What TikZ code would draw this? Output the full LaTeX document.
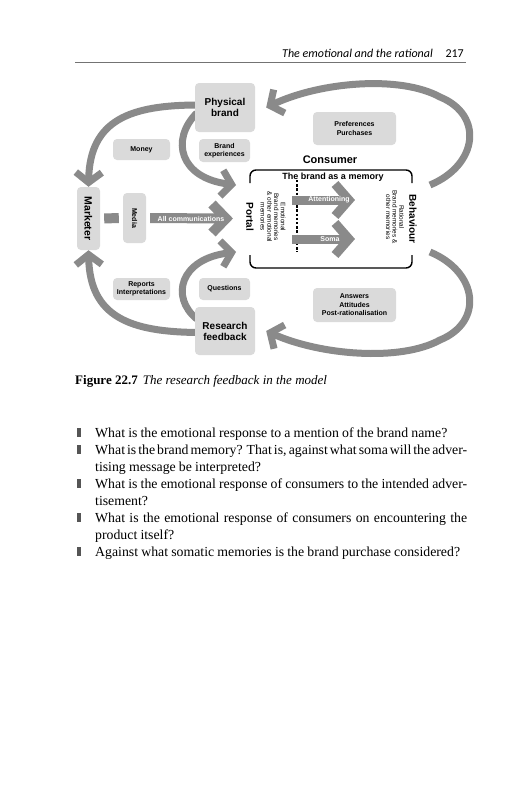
\documentclass[tikz,border=0pt]{standalone}
\usepackage{fontspec}
\setmainfont{Liberation Serif}
\setsansfont{Liberation Sans}
\newfontfamily\headfont{Carlito}
\usetikzlibrary{arrows.meta,calc,backgrounds}
\definecolor{boxgray}{RGB}{218,218,218}
\definecolor{arrgray}{RGB}{138,138,138}
\definecolor{bulgray}{RGB}{85,85,85}
\newcommand\parafont{\fontsize{13.8}{17}\selectfont\spaceskip=.23em plus .2em minus .1em\relax}
\tikzset{
	box/.style={fill=boxgray,rounded corners=4pt,inner sep=0pt,align=center,
		font=\sffamily\bfseries\fontsize{7}{8.5}\selectfont},
	bigbox/.style={box,font=\sffamily\bfseries\fontsize{10}{11}\selectfont},
	flow/.style={draw=arrgray,line width=7pt,-{Straight Barb[length=10pt,width=26pt]}},
	chev/.style={draw=arrgray,line width=9pt},
	bartext/.style={text=white,inner sep=0pt,font=\sffamily\bfseries\fontsize{7}{8}\selectfont},
	memo/.style={rotate=-90,align=center,inner sep=0pt,font=\sffamily\fontsize{6.4}{6.7}\selectfont},
	para/.style={anchor=base west,inner sep=0pt,text width=372pt,align=justify,font=\parafont},
}
\begin{document}
\begin{tikzpicture}[x=1pt,y=-1pt,line join=miter]
	\useasboundingbox (0,0) rectangle (522,800);
	% running head
	\node[anchor=base east,inner sep=0pt,font=\headfont\itshape\fontsize{12}{12}\selectfont] (runhead) at (433,57) {The emotional and the rational};
	\node[anchor=base east,inner sep=0pt,font=\headfont\fontsize{12}{12}\selectfont] (folio) at (464,57) {217};
	\draw[black!55,line width=0.8pt] (75,62) -- (466,62);

	% boxes round the consumer
	\node[bigbox,minimum width=60pt,minimum height=49pt] (phys) at (225,107.5) {Physical\\brand};
	\node[box,minimum width=57pt,minimum height=21pt] (money) at (141.5,149.5) {Money};
	\node[box,minimum width=51pt,minimum height=23pt] (bexp) at (224.5,150.5) {Brand\\experiences};
	\node[box,minimum width=83pt,minimum height=33pt] (prefs) at (354.5,128.5) {Preferences\\Purchases};
	\node[box,minimum width=57pt,minimum height=22pt] (reports) at (141.5,289) {Reports\\Interpretations};
	\node[box,minimum width=51pt,minimum height=22pt] (quest) at (224.5,289) {Questions};
	\node[bigbox,minimum width=60pt,minimum height=48pt] (resfb) at (225,331) {Research\\feedback};
	\node[box,minimum width=83pt,minimum height=34pt] (answers) at (354.5,305) {Answers\\Attitudes\\Post-rationalisation};

	% marketer and media
	\node[box,minimum width=23pt,minimum height=63pt,font=\sffamily\bfseries\fontsize{10.5}{11}\selectfont] (mark) at (88.5,218.5) {\rotatebox{-90}{Marketer}};
	\node[box,minimum width=23pt,minimum height=50pt] (media) at (134.5,218) {\rotatebox{-90}{Media}};
	\draw[arrgray,line width=10pt,shorten <=4pt,shorten >=4pt] (mark.east) -- (media.east -| media.west);
	\draw[chev,line width=10pt] (212,204) -- (226,218.5) -- (212,233);
	\draw[arrgray,line width=10pt] ($(media.east)+(4,0)$) -- (224,218.5);
	\node[bartext] (allcom) at (191,218.5) {All communications};

	% the consumer
	\node[anchor=base,inner sep=0pt,font=\sffamily\bfseries\fontsize{11}{11}\selectfont] (consumer) at (330,163) {Consumer};
	\draw[line width=1.4pt,rounded corners=6pt] (250,183) -- (250,170) -- (412,170) -- (412,183);
	\draw[line width=1.4pt,rounded corners=6pt] (250,255) -- (250,268) -- (412,268) -- (412,255);
	\node[anchor=base,inner sep=0pt,font=\sffamily\bfseries\fontsize{9}{9}\selectfont] (memory) at (333,179) {The brand as a memory};
	\node[rotate=-90,inner sep=0pt,font=\sffamily\bfseries\fontsize{10}{10}\selectfont] (portal) at (250,217) {Portal};
	\node[memo] (emo) at (273,217) {Emotional\\Brand memories\\\& other emotional\\memories};
	\draw[line width=2.4pt,dash pattern=on 2.4pt off 1.8pt] (297,180) -- (297,252);
	% attentioning
	\draw[chev] (335,184) -- (349,200) -- (335,216);
	\fill[arrgray] (292,195.5) rectangle (345,204.5);
	\node[bartext] (atten) at (329,200) {Attentioning};
	% soma
	\draw[chev] (335,223) -- (349,239) -- (335,255);
	\fill[arrgray] (292,234.5) rectangle (345,243.5);
	\node[bartext] (soma) at (330,239) {Soma};
	\node[memo] (rat) at (395,217) {Rational\\Brand memories \&\\other memories};
	\node[rotate=-90,inner sep=0pt,font=\sffamily\bfseries\fontsize{10}{10}\selectfont] (behav) at (413,219) {Behaviour};
	\coordinate (ptop) at (236,185);
	\coordinate (pbot) at (236,252);
	\coordinate (btop) at (430,185);
	\coordinate (bbot) at (430,252);

	% feedback loops
	\begin{pgfonlayer}{background}
		\fill[white] (0,0) rectangle (522,800);
		\draw[flow] ($(phys.west)+(4,-2.5)$) .. controls (130,105) and (90,120) .. (mark.north);
		\draw[flow] ($(phys.west)+(2,5.5)$) .. controls (170,140) and (180,178) .. (ptop);
		\draw[flow] (btop) .. controls (478,165) and (484,115) .. (440,97)
			.. controls (400,75) and (320,82) .. ($(phys.east)+(11,0)$);
		\draw[flow] (bbot) .. controls (478,272) and (484,322) .. (440,340)
			.. controls (400,362) and (320,355) .. ($(resfb.east)+(11,0)$);
		\draw[flow] ($(resfb.west)+(4,1.5)$) .. controls (130,332) and (90,317) .. (mark.south);
		\draw[flow] ($(resfb.west)+(2,-12)$) .. controls (170,297) and (180,259) .. (pbot);
	\end{pgfonlayer}

	% caption
	\node[anchor=base west,inner sep=0pt,font=\fontsize{13}{15}\selectfont] (caption) at (75,384)
		{\textbf{Figure 22.7}\hspace{5pt}\textit{The research feedback in the model}};

	% questions
	\foreach \yb in {437,454,488,522,556}
		\fill[bulgray] (77,\yb-9) rectangle (80.5,\yb);
	\node[para] (q1) at (95,437) {What is the emotional response to a mention of the brand name?};
	\node[para] (q2) at (95,454) {What is the brand memory? That is, against what soma will the adver-\linebreak tising message be interpreted?};
	\node[para] (q3) at (95,488) {What is the emotional response of consumers to the intended adver-\linebreak tisement?};
	\node[para] (q4) at (95,522) {What is the emotional response of consumers on encountering the\linebreak product itself?};
	\node[para] (q5) at (95,556) {Against what somatic memories is the brand purchase considered?};
\end{tikzpicture}
\end{document}
